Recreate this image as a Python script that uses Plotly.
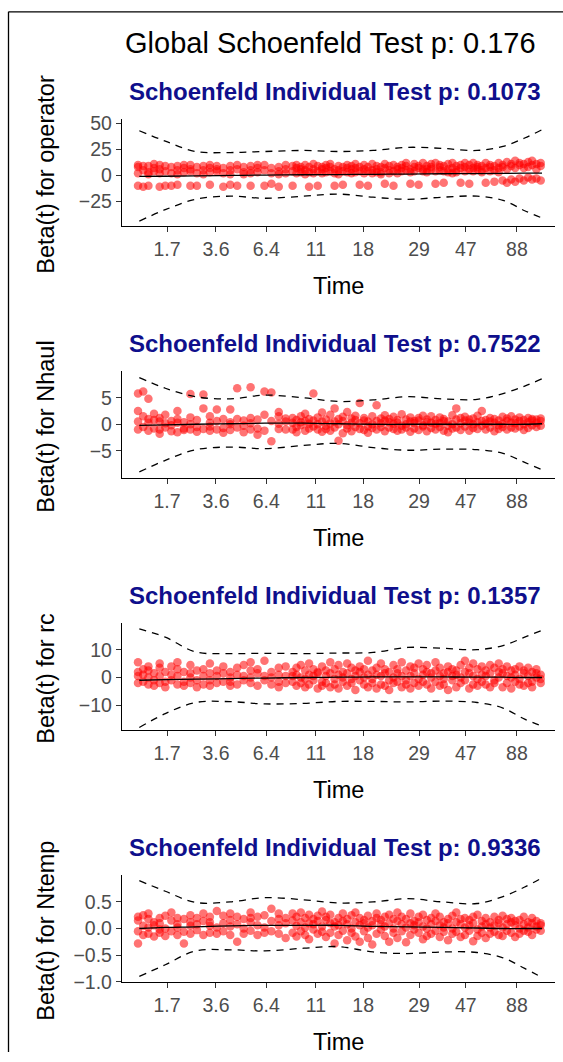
import plotly.graph_objects as go

# ---------------- data ----------------
# transformed event time positions (0..1) ; tied events share a position
event_x = [0.037, 0.049, 0.061, 0.074, 0.087, 0.100, 0.114, 0.128, 0.143, 0.158, 0.173, 0.188,
           0.203, 0.219, 0.234, 0.250, 0.266, 0.281, 0.297, 0.313, 0.329, 0.345, 0.362, 0.378,
           0.394, 0.403, 0.413, 0.423, 0.432, 0.442, 0.452, 0.462, 0.471, 0.481, 0.491, 0.500,
           0.510, 0.520, 0.530, 0.539, 0.549, 0.559, 0.568, 0.578, 0.588, 0.598, 0.607, 0.617,
           0.627, 0.636, 0.646, 0.656, 0.666, 0.675, 0.685, 0.695, 0.704, 0.714, 0.724, 0.734,
           0.743, 0.753, 0.763, 0.772, 0.782, 0.792, 0.802, 0.811, 0.821, 0.831, 0.840, 0.850,
           0.860, 0.870, 0.879, 0.889, 0.899, 0.908, 0.918, 0.928, 0.938, 0.947, 0.957, 0.967]

time_tick_pos = [0.104, 0.217, 0.333, 0.448, 0.557, 0.686, 0.794, 0.912]
time_tick_labels = ["1.7", "3.6", "6.4", "11", "18", "29", "47", "88"]

operator_res = [
    [8, 2, -10, 10], [5, -11, 9], [3, 9, -10, 1], [7, 11, 4], [10, 2, -11, 6], [4, -10, 9],
    [2, 8, -10], [9, 5, -9, 1], [7, 10, 3], [10, 4, -10, 6], [2, -10, 8], [9, 1, 5],
    [7, -9, 3, 10], [4, 6, 9], [2, 7, -11], [9, 5, -9, 1], [6, 10, -10], [3, 8, 1],
    [9, -10, 5, 2], [7, 3, 10], [10, 5, -10], [2, 7, -8], [8, 4, -11, 1], [6, 2, 10],
    [4, 9, -10], [7, 2, 10], [8, 6, 3], [5, 10, 1], [3, -11, 8], [6, 11, 2], [9, -10, 4],
    [6, 2, 8], [3, 7, 10], [8, 4, 11], [6, -10, 2], [9, 5, 1], [4, -9, 8], [10, 3, 7],
    [6, 9, 2], [11, 3, 7], [4, -9, 8], [2, 10, 6], [8, -10, 4], [5, 11, 2], [9, 3, 6],
    [3, 8, 1], [7, -8, 11], [5, 2, 9], [10, -10, 4], [8, 6, 2], [4, 7, 10], [9, 5, 12],
    [6, -8, 3], [11, 8, 4], [7, -9, 9], [4, 12, 6], [9, 6, 3], [6, 11, 8], [12, -8, 4],
    [8, 5, 10], [4, -7, 9], [11, 6, 3], [7, 2, 12], [5, 9, 3], [10, -7, 7], [8, 4, 12],
    [6, -8, 10], [7, 12, 4], [10, 6, 8], [5, 9, 3], [12, -7, 7], [4, 10, 8], [9, -6, 5],
    [7, 12, 3], [10, -5, 8], [6, -7, 13], [9, -4, 11], [14, -6, 7], [10, -3, 12], [7, -5, 11],
    [13, -2, 8], [10, -4, 14], [6, -3, 11], [9, -5, 12]]

nhaul_res = [
    [0.5, -1.0, 5.8, 2.5], [-0.5, 1.5, 6.2], [4.8, -1.2, 0.3, 1.0], [0.8, -0.8, 2.0],
    [-1.0, 0.5, 1.2, -1.8], [0.2, -0.6, 1.8], [-1.3, 0.6, -0.2], [1.0, -1.5, 0.3, 2.5],
    [-0.8, 0.4, -1.1], [5.7, 0.0, -1.0, 1.3], [-0.5, 0.8, -1.4], [5.6, -0.9, 3.0],
    [-1.2, 0.3, 1.5, -0.4], [2.8, 0.6, -1.0], [-0.7, 1.0, -1.6], [0.4, -1.1, 2.8, 0.0],
    [6.8, -0.6, 1.0], [-1.5, 0.7, -0.3], [7.0, 0.2, -1.0, 1.2], [-0.8, 0.9, -2.0],
    [6.2, -1.2, 1.8], [6.0, 0.6, -3.2], [1.5, -0.9, 0.1, 2.3], [-1.0, 0.5, 1.1],
    [0.3, -1.0, 1.2], [-0.5, 0.8, -1.5], [1.5, -0.2, 0.4], [-1.2, 0.6, 2.0], [0.1, -0.8, 1.0],
    [5.8, -0.4, 0.7], [-1.0, 1.3, 0.0], [0.5, -1.4, 2.2], [-0.3, 0.9, -0.9], [1.8, 0.2, -1.2],
    [3.0, -0.6, 0.5], [-3.1, 1.0, 0.0], [0.6, -1.7, 1.4], [-0.2, 2.3, -0.8], [1.1, 0.3, -1.3],
    [-0.5, 0.8, 1.6], [4.0, -0.9, 0.2], [0.7, -1.1, 1.2], [-0.4, 0.5, -1.6], [1.5, 0.0, -0.7],
    [3.6, -1.0, 0.6], [0.2, 1.1, -0.5], [-1.3, 0.7, 1.7], [0.4, -0.6, 1.0], [-0.9, 1.4, 0.1],
    [0.8, -1.2, 0.3], [1.9, -0.3, -1.0], [0.0, 0.9, -0.6], [-1.4, 0.5, 1.3], [0.6, -0.8, 0.2],
    [1.2, -1.1, 0.7], [-0.4, 1.6, -0.2], [0.9, -1.3, 0.4], [-0.7, 0.3, 1.5], [0.1, -1.0, 0.8],
    [1.3, -0.5, 0.2], [-1.2, 0.6, 1.0], [0.5, -0.3, -1.5], [1.7, 0.0, -0.8], [3.0, -0.6, 0.9],
    [0.2, 1.2, -1.1], [-0.4, 0.7, 1.4], [0.9, -1.2, 0.3], [-0.7, 1.1, 0.0], [0.4, -0.9, 1.6],
    [2.5, -0.3, 0.6], [-1.0, 0.8, 0.1], [0.5, -0.6, 1.2], [1.0, -1.3, 0.3], [-0.2, 0.7, -0.9],
    [1.4, 0.1, -0.5], [0.6, -1.0, 1.1], [-0.6, 0.3, 1.5], [0.9, -0.8, 0.2], [1.3, -0.4, 0.6],
    [-1.1, 0.8, 0.0], [0.4, 1.2, -0.7], [0.7, -0.2, 1.0], [-0.5, 0.9, 0.3], [0.6, -0.3, 1.1]]

rc_res = [
    [5.5, 0.5, -2.0, 2.0], [-1.5, 1.0, 3.0], [0.0, -2.5, 2.5, 4.0], [1.5, -1.0, -3.0],
    [3.5, 0.5, -2.0, 5.0], [-1.5, 2.0, -3.5], [1.0, 4.0, -1.0], [-2.5, 0.5, 3.0, 5.5],
    [2.0, -1.5, -3.0], [4.5, 0.0, -2.0, 1.5], [-1.0, 2.5, -3.5], [3.0, 0.5, -2.5],
    [5.0, -1.0, 1.5, -3.0], [0.5, 2.5, -2.0], [-1.5, 1.5, 4.0], [-3.0, 0.0, 2.0, -1.5],
    [1.0, -2.5, 3.5], [4.5, 0.5, -1.0], [-2.0, 2.5, 5.5, 0.0], [1.5, -3.0, 3.0],
    [-1.0, 0.5, 6.0], [2.0, -2.5, 0.0], [-3.5, 1.0, 3.5, -1.5], [4.0, -2.0, 0.5],
    [2.0, -1.5, 0.5], [-3.0, 3.5, 1.0], [0.0, -2.0, 4.5], [2.5, -3.5, -0.5], [5.0, 1.0, -2.5],
    [-1.0, 3.0, 0.5], [-4.0, 2.0, 1.5], [4.0, -1.5, -3.0], [0.5, 2.5, -2.0], [-3.5, 1.5, 5.5],
    [3.0, -0.5, -2.5], [1.0, 4.5, -4.0], [-1.5, 2.0, 0.0], [5.0, -3.0, 1.5], [-2.0, 3.5, -0.5],
    [2.5, -4.5, 0.5], [-1.0, 4.0, 2.0], [0.0, -2.5, 3.0], [6.0, 1.0, -3.5], [-2.0, 2.5, -0.5],
    [3.5, -4.0, 1.0], [0.5, 5.0, -2.5], [-3.0, 1.5, 3.0], [2.0, -1.0, -4.5], [4.5, 0.0, -2.0],
    [-1.5, 3.0, 1.5], [0.5, -3.5, 5.5], [2.5, -1.0, -2.5], [-4.0, 4.0, 0.5], [1.5, -2.0, 3.5],
    [-0.5, 5.0, -3.0], [3.0, 1.0, -1.5], [-2.5, 2.0, 4.5], [0.0, -4.0, 1.5], [5.5, -1.5, 2.5],
    [-3.0, 0.5, 3.5], [1.5, -2.5, -0.5], [4.0, 2.0, -4.5], [-1.0, 3.0, 0.5], [2.5, -3.5, 1.0],
    [-2.0, 4.5, 0.0], [6.0, -1.0, 2.0], [-4.0, 1.5, 3.5], [0.5, -2.5, 5.0], [3.0, -0.5, -3.0],
    [1.0, 4.0, -1.5], [-2.5, 2.5, 0.5], [4.5, -3.5, 1.5], [-1.0, 3.5, -2.0], [2.0, 0.0, 5.0],
    [-3.5, 1.5, 3.0], [0.5, -2.0, 4.0], [2.5, -4.0, 0.0], [-1.5, 3.0, 1.0], [4.0, -2.5, -0.5],
    [1.5, 2.5, -3.0], [-2.0, 0.5, 3.5], [2.0, -1.5, -3.5], [0.0, 3.0, 1.5], [-2.0, 1.0, -0.5]]

ntemp_res = [
    [0.15, -0.05, -0.28, 0.22], [0.05, 0.25, -0.12], [-0.10, 0.18, 0.02, 0.28], [0.12, -0.15, 0.06],
    [0.20, -0.08, 0.10, -0.02], [0.24, 0.00, -0.14], [-0.05, 0.15, 0.30], [0.08, -0.12, 0.20, 0.02],
    [0.18, -0.06, -0.28], [0.25, 0.05, -0.10, 0.12], [-0.03, 0.20, 0.08], [0.14, -0.12, 0.28],
    [0.05, 0.22, -0.08, 0.12], [0.33, 0.02, -0.10], [0.10, -0.05, 0.24], [-0.12, 0.16, 0.04, 0.28],
    [0.22, -0.25, 0.08], [0.00, 0.18, -0.10], [0.12, 0.30, -0.04, 0.20], [0.06, -0.12, 0.22],
    [0.25, 0.02, -0.08], [0.14, 0.37, -0.05], [-0.10, 0.18, 0.06, 0.28], [0.10, -0.18, 0.20],
    [0.15, -0.08, 0.28], [0.05, 0.22, -0.15], [-0.05, 0.12, 0.30], [0.20, -0.12, 0.02],
    [0.10, 0.26, -0.20], [-0.02, 0.18, 0.08], [0.24, -0.10, 0.14], [0.04, 0.32, -0.06],
    [0.16, -0.16, 0.22], [-0.08, 0.10, 0.26], [0.12, -0.28, 0.04], [0.20, 0.06, -0.12],
    [-0.04, 0.28, 0.14], [0.08, -0.22, 0.18], [0.25, 0.00, -0.08], [0.12, -0.15, 0.30],
    [-0.25, 0.06, 0.20], [0.16, -0.05, 0.10], [0.02, 0.24, -0.18], [-0.30, 0.14, 0.06],
    [0.20, -0.10, 0.28], [0.08, -0.02, 0.16], [-0.14, 0.22, 0.04], [0.26, 0.10, -0.25],
    [0.00, 0.18, -0.08], [0.14, -0.18, 0.30], [-0.05, 0.08, 0.22], [0.18, -0.26, 0.02],
    [0.10, 0.28, -0.12], [-0.02, 0.14, 0.06], [0.22, -0.08, 0.12], [0.04, -0.20, 0.26],
    [0.16, 0.00, -0.14], [-0.10, 0.20, 0.08], [0.28, -0.04, 0.14], [0.06, -0.16, 0.22],
    [-0.06, 0.12, 0.02], [0.18, -0.22, 0.10], [0.00, 0.24, -0.10], [0.12, -0.06, 0.30],
    [-0.16, 0.08, 0.18], [0.20, 0.02, -0.12], [-0.04, 0.16, 0.06], [0.10, -0.24, 0.22],
    [0.26, -0.02, -0.14], [0.04, 0.14, -0.08], [-0.18, 0.20, 0.08], [0.12, -0.10, 0.02],
    [0.22, 0.06, -0.06], [-0.12, 0.16, 0.10], [0.02, -0.14, 0.24], [0.18, 0.08, -0.04],
    [-0.08, 0.12, 0.20], [0.06, -0.16, 0.14], [0.16, 0.00, -0.10], [-0.04, 0.22, 0.08],
    [0.12, -0.06, 0.02], [0.20, -0.12, 0.10], [0.04, 0.14, -0.02], [0.10, -0.04, 0.06]]

# smooth fit and +/- 2 SE bands at these positions
band_x = [0.04, 0.10, 0.17, 0.25, 0.33, 0.42, 0.50, 0.58, 0.66, 0.74, 0.82, 0.88, 0.93, 0.97]

operator_fit = [-1.0, -0.8, -0.5, 0.0, 0.3, 0.6, 0.8, 1.0, 1.3, 1.6, 1.8, 2.0, 2.1, 2.2]
operator_up = [43, 33, 23, 22, 23, 24, 23, 24, 27, 26, 24, 28, 36, 44]
operator_lo = [-44, -33, -23, -20, -22, -20, -18, -21, -23, -21, -20, -24, -34, -41]

nhaul_fit = [-0.2, -0.1, 0.0, 0.1, 0.2, 0.2, 0.1, 0.0, 0.0, 0.0, 0.0, 0.0, 0.0, 0.1]
nhaul_up = [8.8, 6.8, 5.2, 4.8, 5.5, 5.0, 4.3, 4.6, 5.2, 4.8, 4.7, 5.8, 7.2, 8.6]
nhaul_lo = [-9.0, -6.8, -4.8, -4.3, -4.6, -4.0, -3.6, -4.4, -4.9, -4.7, -4.8, -5.5, -7.2, -8.6]

rc_fit = [-1.0, -0.8, -0.6, -0.4, -0.2, 0.0, 0.1, 0.2, 0.2, 0.2, 0.1, 0.1, 0.0, 0.0]
rc_up = [17.5, 14.5, 9.2, 8.6, 8.7, 8.6, 8.8, 9.0, 10.8, 10.5, 10.0, 11.5, 14.5, 17.0]
rc_lo = [-18.0, -13.0, -9.0, -8.7, -9.5, -9.3, -8.6, -8.6, -8.8, -8.5, -9.0, -11.0, -15.0, -17.5]

ntemp_fit = [0.0, 0.02, 0.03, 0.05, 0.06, 0.06, 0.06, 0.04, 0.03, 0.02, 0.01, 0.0, 0.0, 0.0]
ntemp_up = [0.90, 0.70, 0.49, 0.50, 0.58, 0.54, 0.48, 0.50, 0.56, 0.50, 0.47, 0.60, 0.78, 0.95]
ntemp_lo = [-0.90, -0.68, -0.42, -0.40, -0.42, -0.37, -0.34, -0.44, -0.47, -0.44, -0.45, -0.55, -0.75, -0.92]

global_p = "0.176"
panels = [
    dict(var="operator", p="0.1073", res=operator_res, fit=operator_fit, up=operator_up, lo=operator_lo,
         yrange=[-49, 54], tickvals=[-25, 0, 25, 50], fmt=""),
    dict(var="Nhaul", p="0.7522", res=nhaul_res, fit=nhaul_fit, up=nhaul_up, lo=nhaul_lo,
         yrange=[-10.2, 10.0], tickvals=[-5, 0, 5], fmt=""),
    dict(var="rc", p="0.1357", res=rc_res, fit=rc_fit, up=rc_up, lo=rc_lo,
         yrange=[-19.0, 19.5], tickvals=[-10, 0, 10], fmt=""),
    dict(var="Ntemp", p="0.9336", res=ntemp_res, fit=ntemp_fit, up=ntemp_up, lo=ntemp_lo,
         yrange=[-1.01, 1.0], tickvals=[-1.0, -0.5, 0.0, 0.5], fmt=".1f"),
]

# ---------------- layout helpers ----------------
W, H = 563, 1062
FONT = "Liberation Sans, Arial, sans-serif"
# vertical calibration of target pixel rows to figure rows
Y_SHIFT, Y_SCALE = 5.7, 0.984

def px_x(v):
    return v / W

def px_y(v):
    return 1 - ((v - Y_SHIFT) / Y_SCALE) / H

fig = go.Figure()
annotations = []
layout_axes = {}
x_left, x_right = 122, 555
step = 252

for i, pnl in enumerate(panels):
    k = "" if i == 0 else str(i + 1)
    top = 118 + step * i
    bot = 225 + step * i
    xs, ys = [], []
    for gx, grp in zip(event_x, pnl["res"]):
        for v in grp:
            xs.append(gx)
            ys.append(v)
    fig.add_trace(go.Scatter(x=xs, y=ys, mode="markers", xaxis="x" + k, yaxis="y" + k,
                             marker=dict(color="#FF0000", size=8.5, opacity=0.55, line=dict(width=0)),
                             showlegend=False, hoverinfo="skip"))
    fig.add_trace(go.Scatter(x=band_x, y=pnl["fit"], mode="lines", xaxis="x" + k, yaxis="y" + k,
                             line=dict(color="black", width=1.3, shape="spline"),
                             showlegend=False, hoverinfo="skip"))
    for band in (pnl["up"], pnl["lo"]):
        fig.add_trace(go.Scatter(x=band_x, y=band, mode="lines", xaxis="x" + k, yaxis="y" + k,
                                 line=dict(color="black", width=1.3, dash="7px,6px", shape="spline"),
                                 showlegend=False, hoverinfo="skip"))
    layout_axes["xaxis" + k] = dict(
        domain=[px_x(x_left), px_x(x_right)], range=[0, 1], anchor="y" + k,
        showline=True, linecolor="black", linewidth=1.3, showgrid=False, zeroline=False,
        ticks="outside", ticklen=5, tickcolor="#333333", tickwidth=1.1,
        tickvals=time_tick_pos, ticktext=time_tick_labels,
        tickfont=dict(family=FONT, size=19.5, color="#4D4D4D"))
    layout_axes["yaxis" + k] = dict(
        domain=[px_y(bot), px_y(top)], range=pnl["yrange"], anchor="x" + k,
        showline=True, linecolor="black", linewidth=1.3, showgrid=False, zeroline=False,
        ticks="outside", ticklen=5, tickcolor="#333333", tickwidth=1.1,
        tickvals=pnl["tickvals"], tickformat=pnl["fmt"],
        tickfont=dict(family=FONT, size=19.5, color="#4D4D4D"))
    annotations.append(dict(text="<b>Schoenfeld Individual Test p: %s</b>" % pnl["p"],
                            x=px_x(335), y=px_y(90 + step * i), xref="paper", yref="paper",
                            xanchor="center", yanchor="middle", showarrow=False,
                            font=dict(family=FONT, size=24, color="#0F0F8C")))
    annotations.append(dict(text="Time", x=px_x(338), y=px_y(285 + step * i), xref="paper", yref="paper",
                            xanchor="center", yanchor="middle", showarrow=False,
                            font=dict(family=FONT, size=23.5, color="black")))
    annotations.append(dict(text="Beta(t) for %s" % pnl["var"], x=px_x(46), y=px_y((top + bot) / 2 + 2),
                            xref="paper", yref="paper", xanchor="center", yanchor="middle",
                            textangle=-90, showarrow=False,
                            font=dict(family=FONT, size=23.5, color="black")))

annotations.append(dict(text="Global Schoenfeld Test p: %s" % global_p, x=px_x(330), y=px_y(42),
                        xref="paper", yref="paper", xanchor="center", yanchor="middle", showarrow=False,
                        font=dict(family=FONT, size=29, color="black")))

shapes = [
    dict(type="line", xref="paper", yref="paper", x0=px_x(8.5), x1=1.0, y0=px_y(10.5), y1=px_y(10.5),
         line=dict(color="black", width=1.3)),
    dict(type="line", xref="paper", yref="paper", x0=px_x(8.5), x1=px_x(8.5), y0=px_y(10.5), y1=0,
         line=dict(color="black", width=1.3)),
]

fig.update_layout(width=W, height=H, margin=dict(l=0, r=0, t=0, b=0),
                  paper_bgcolor="white", plot_bgcolor="white",
                  annotations=annotations, shapes=shapes, **layout_axes)

fig.write_html("out.html", config={"displayModeBar": False},
               post_script="document.body.style.margin='0px';document.body.style.overflow='hidden';")
